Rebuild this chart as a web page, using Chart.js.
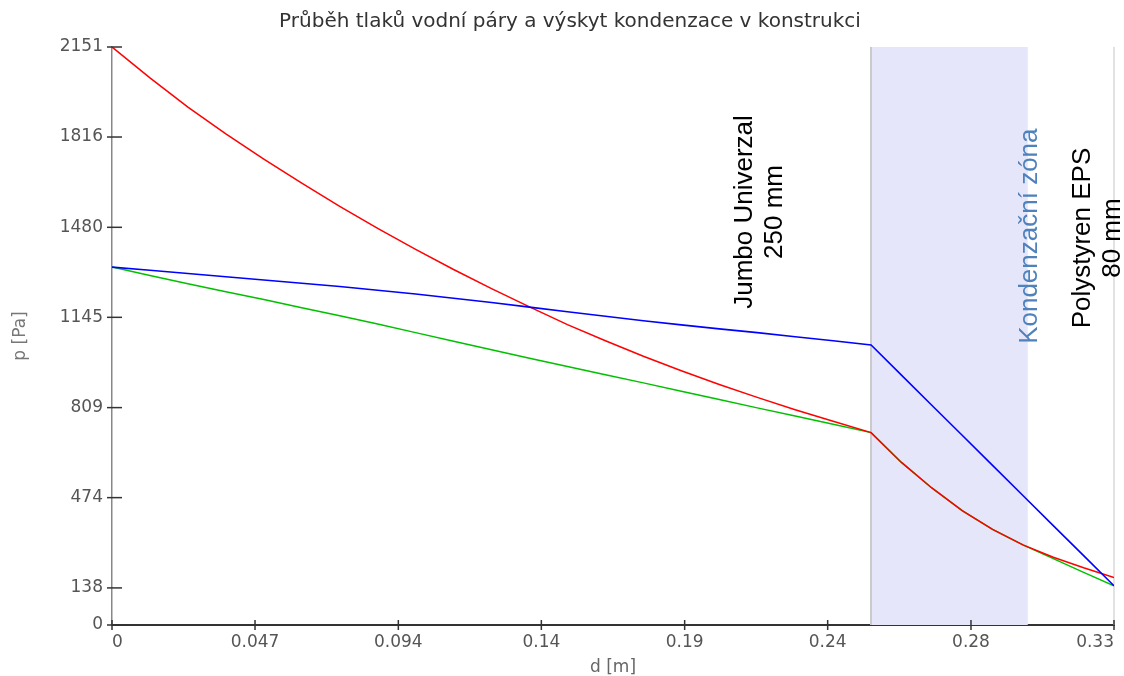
<!DOCTYPE html>
<html>
<head>
<meta charset="utf-8">
<script src="https://cdn.jsdelivr.net/npm/chart.js@4.4.1/dist/chart.umd.min.js"></script>
<style>
  html, body { margin: 0; padding: 0; background: #fff; }
  #chart { display: block; }
</style>
</head>
<body>
<canvas id="chart" width="1124" height="676"></canvas>
<script>
// depth through the wall [m]
const depth = [0, 0.0125, 0.025, 0.0375, 0.05, 0.0625, 0.075, 0.0875, 0.1, 0.1125,
               0.125, 0.1375, 0.15, 0.1625, 0.175, 0.1875, 0.2, 0.2125, 0.225, 0.2375, 0.25,
               0.26, 0.27, 0.28, 0.29, 0.30, 0.31, 0.32, 0.33];
// saturated vapour pressure [Pa] (red)
const pSat = [2151, 2036, 1927, 1828, 1734, 1644, 1558, 1476, 1398, 1323,
              1252, 1184, 1118, 1058, 1000, 946, 895, 847, 801, 758, 716,
              605, 510, 426, 356, 298, 252, 213, 177];
// partial pressure without condensation [Pa] (blue)
const pPartial = [1332, 1320, 1308, 1296, 1284, 1272, 1260, 1246, 1232, 1216,
                  1200, 1183, 1166, 1149, 1132, 1117, 1102, 1088, 1073, 1058, 1042,
                  930, 818, 706, 594, 482, 370, 258, 146];
// real partial pressure [Pa] (green)
const pReal = [1332, 1301, 1270, 1240, 1211, 1181, 1151, 1120, 1088, 1056,
               1024, 993, 962, 931, 901, 870, 839, 808, 778, 747, 716,
               605, 510, 426, 356, 298, 247, 196, 146];

const yTicks = [0, 138, 474, 809, 1145, 1480, 1816, 2151];
const xTicks = [0, 0.0471, 0.0943, 0.1414, 0.1886, 0.2357, 0.2829, 0.33];
const xTickLabels = ['0', '0.047', '0.094', '0.14', '0.19', '0.24', '0.28', '0.33'];

const layerEnds = [0.25, 0.33];
const layerNames = [['Jumbo Univerzal', '250 mm'], ['Polystyren EPS', '80 mm']];
const condZone = [0.25, 0.3016];
const condLabel = 'Kondenzační zóna';

const toPoints = arr => arr.map((v, i) => ({ x: depth[i], y: v }));

// zone band, layer borders, tick crosses and rotated labels
const layersPlugin = {
    id: 'layers',
    beforeDatasetsDraw(chart) {
        const { ctx, chartArea: a, scales: { x } } = chart;
        ctx.save();
        const z0 = x.getPixelForValue(condZone[0]);
        const z1 = x.getPixelForValue(condZone[1]);
        ctx.fillStyle = '#e6e6fa';
        ctx.fillRect(z0, a.top, z1 - z0, a.bottom - a.top);
        ctx.lineWidth = 2;
        layerEnds.forEach((d, i) => {
            const px = Math.round(x.getPixelForValue(d));
            ctx.strokeStyle = i === 0 ? '#cacaca' : '#e2e2e2';
            ctx.beginPath();
            ctx.moveTo(px, a.top);
            ctx.lineTo(px, a.bottom);
            ctx.stroke();
        });
        ctx.restore();
    },
    afterDraw(chart) {
        const { ctx, chartArea: a, scales: { x, y } } = chart;
        ctx.save();
        // tick marks
        ctx.strokeStyle = '#333';
        ctx.lineWidth = 1.5;
        yTicks.forEach(v => {
            const py = y.getPixelForValue(v);
            ctx.beginPath();
            ctx.moveTo(a.left - 5, py);
            ctx.lineTo(a.left + 10, py);
            ctx.stroke();
        });
        xTicks.forEach(v => {
            const px = x.getPixelForValue(v);
            ctx.beginPath();
            ctx.moveTo(px, a.bottom - 5);
            ctx.lineTo(px, a.bottom + 5);
            ctx.stroke();
        });

        // rotated texts
        const vText = (lines, bx, cy, color) => {
            ctx.save();
            ctx.translate(bx, cy);
            ctx.rotate(-Math.PI / 2);
            ctx.fillStyle = color;
            ctx.font = '26px "Liberation Sans", Arial, sans-serif';
            ctx.textAlign = 'center';
            ctx.textBaseline = 'alphabetic';
            lines.forEach((t, i) => ctx.fillText(t, 0, i * 30));
            ctx.restore();
        };
        const b0 = x.getPixelForValue(layerEnds[0]);
        const b1 = x.getPixelForValue(layerEnds[1]);
        const zEnd = x.getPixelForValue(condZone[1]);
        vText(layerNames[0], b0 - 119, y.getPixelForValue(1537), '#000');
        vText([condLabel], zEnd + 9, y.getPixelForValue(1447), '#4f81bd');
        vText(layerNames[1], b1 - 24, y.getPixelForValue(1440), '#000');
        ctx.restore();
    }
};

new Chart(document.getElementById('chart'), {
    type: 'line',
    data: {
        datasets: [{
            label: 'p (bez kondenzace)',
            data: toPoints(pPartial),
            borderColor: '#0000ff',
            borderWidth: 1.6
        }, {
            label: 'p sat',
            data: toPoints(pSat),
            borderColor: '#ff0000',
            borderWidth: 1.5
        }, {
            label: 'p',
            data: toPoints(pReal),
            borderColor: '#00c000',
            borderWidth: 1.5
        }]
    },
    options: {
        responsive: false,
        animation: false,
        devicePixelRatio: 1,
        elements: { point: { radius: 0 }, line: { tension: 0 } },
        layout: { padding: { left: 26, right: 10, top: 0, bottom: 0 } },
        scales: {
            x: {
                type: 'linear',
                min: 0,
                max: 0.33,
                afterBuildTicks: s => { s.ticks = xTicks.map(v => ({ value: v })); },
                afterFit: s => { s.height = 51; s.paddingLeft = 0; s.paddingRight = 0; },
                grid: { display: false, drawTicks: false },
                border: { color: '#333', width: 2 },
                ticks: {
                    padding: 7,
                    align: 'inner',
                    maxRotation: 0,
                    autoSkip: false,
                    color: '#555',
                    font: { family: 'DejaVu Sans', size: 17 },
                    callback: (v, i) => xTickLabels[i]
                },
                title: {
                    display: true,
                    text: 'd [m]',
                    color: '#666',
                    font: { family: 'DejaVu Sans', size: 17, lineHeight: 1 },
                    padding: { top: 0, bottom: 0 }
                }
            },
            y: {
                type: 'linear',
                min: 0,
                max: 2151,
                afterBuildTicks: s => { s.ticks = yTicks.map(v => ({ value: v })); },
                afterFit: s => { s.width = 86; },
                grid: { display: false, drawTicks: false },
                border: { color: '#888', width: 1.5 },
                ticks: {
                    padding: 9,
                    color: '#555',
                    font: { family: 'DejaVu Sans', size: 17 },
                    callback: v => String(v)
                },
                title: {
                    display: true,
                    text: 'p [Pa]',
                    color: '#777',
                    font: { family: 'DejaVu Sans', size: 17 },
                    padding: { top: -16, bottom: 0 }
                }
            }
        },
        plugins: {
            legend: { display: false },
            tooltip: { enabled: false },
            title: {
                display: true,
                text: 'Průběh tlaků vodní páry a výskyt kondenzace v konstrukci',
                color: '#333',
                font: { family: 'DejaVu Sans', size: 20, weight: 'normal' },
                padding: { top: 10, bottom: 13 }
            }
        }
    },
    plugins: [layersPlugin]
});
</script>
</body>
</html>
